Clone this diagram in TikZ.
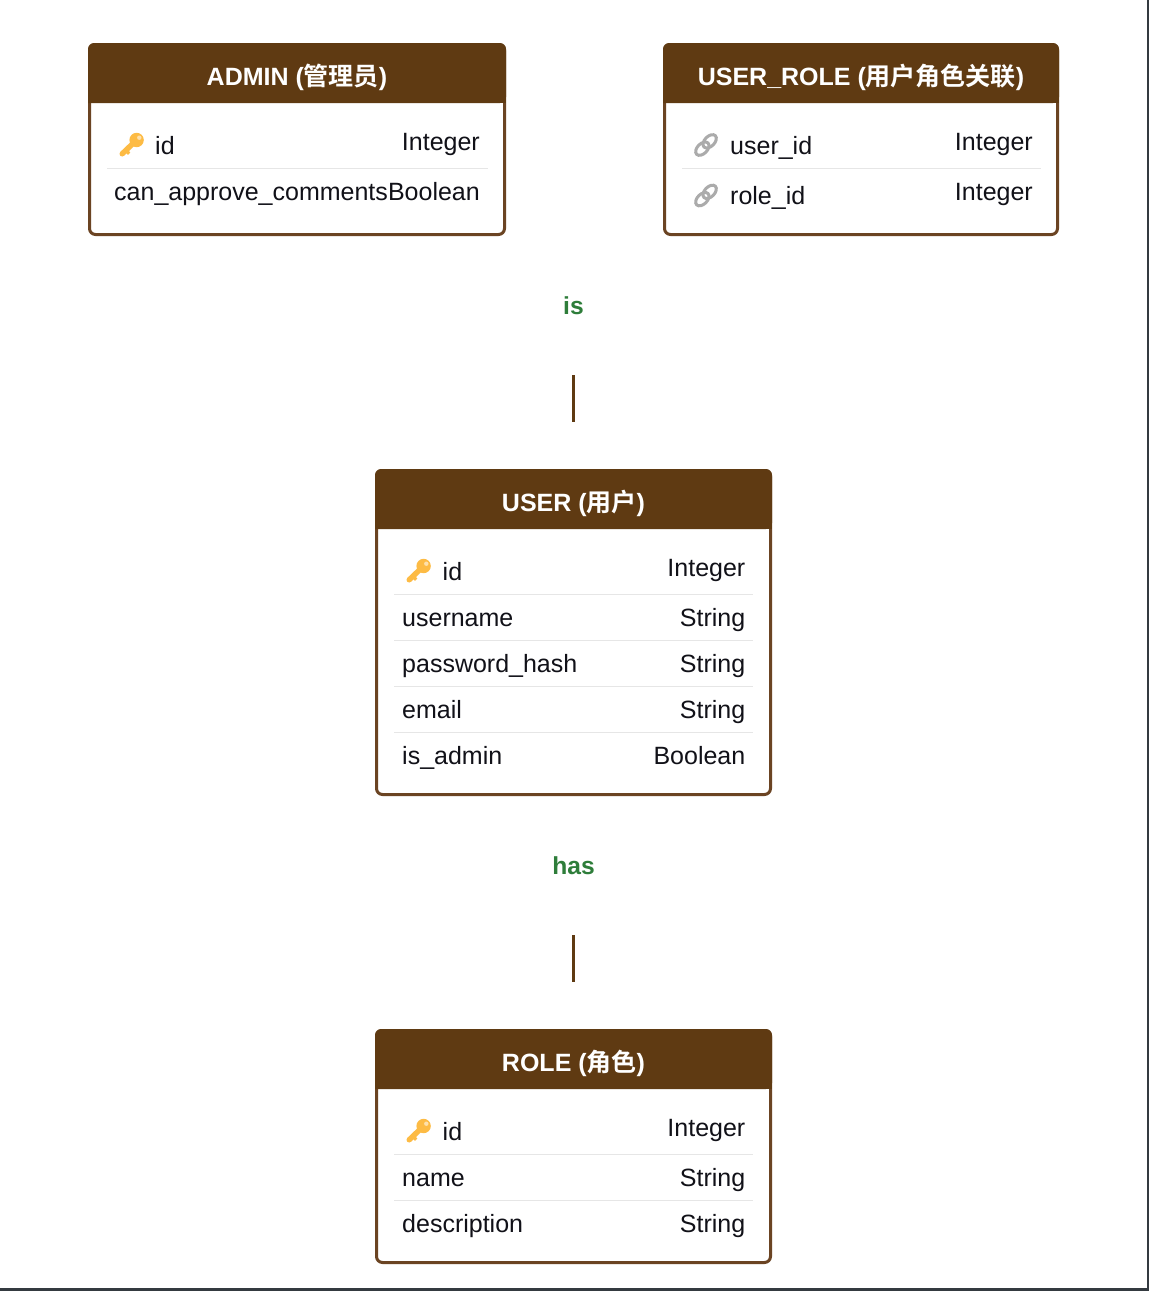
\documentclass[tikz,border=0pt]{standalone}
\usepackage{fontspec}
\setmainfont{Liberation Sans}
\newfontfamily\cjkfont{Noto Sans CJK SC}[BoldFont={Noto Sans CJK SC Bold}]
\definecolor{brownmain}{HTML}{5F3A12}
\definecolor{borderbrown}{HTML}{6B4423}
\definecolor{sepgray}{HTML}{E6E6E6}
\definecolor{labelgreen}{HTML}{2E7D3A}
\definecolor{keygold}{HTML}{FDBB44}
\definecolor{linkgray}{HTML}{ABABAB}
\definecolor{pageedge}{HTML}{343A40}
\definecolor{inktext}{HTML}{111118}
\tikzset{
  x=1pt,y=-1pt,
  cell/.style={font=\fontsize{25}{28}\selectfont,text=inktext,inner sep=0pt},
  cellL/.style={cell,anchor=base west},
  cellR/.style={cell,anchor=base east},
  title/.style={font=\fontsize{25}{28}\selectfont\bfseries,text=white,inner sep=0pt,anchor=base},
  rel/.style={font=\fontsize{24.6}{28}\selectfont\bfseries,text=labelgreen,inner sep=0pt,anchor=base},
  sep/.style={draw=sepgray,line width=1pt},
  conn/.style={draw=brownmain,line width=3pt},
  frame/.style={draw=borderbrown,line width=3pt,rounded corners=6pt,fill=white},
  keyicon/.pic={
    \fill[keygold] (5.6,-5) circle (7.2);
    \draw[keygold,line width=5.4pt,line cap=round] (3,-2.5) -- (-8.8,8.8);
    \draw[keygold,line width=3.4pt] (-4.6,6) -- (-1.8,8.6);
    \fill[white!55!keygold] (8.3,-7.3) circle (2.2);
  },
  linkicon/.pic={
    \draw[linkgray,line width=3pt,rotate=45] (5.2,0) ellipse (8 and 5);
    \draw[linkgray,line width=3pt,rotate=45] (-5.2,0) ellipse (8 and 5);
  },
}
% #1 name, #2 left, #3 top, #4 right, #5 bottom, #6 title
\newcommand{\ertable}[6]{%
  \draw[frame] (#2,#3) rectangle (#4,#5);
  \fill[brownmain,rounded corners=6pt] (#2-1.5,#3+58.5) -- (#2-1.5,#3-1.5) -- (#4+1.5,#3-1.5) -- (#4+1.5,#3+58.5) [sharp corners] -- cycle;
  \fill[brownmain] (#2-1.5,#3+20) rectangle (#4+1.5,#3+58.5);
  \node[title] (#1) at ({(#2+#4)/2},#3+40.5) {#6};
}
\begin{document}
\begin{tikzpicture}
\useasboundingbox (0,0) rectangle (1149,1291);
\fill[white] (0,0) rectangle (1149,1291);
\fill[pageedge] (1147,0) rectangle (1149,1291);
\fill[pageedge] (0,1288) rectangle (1149,1291);

% ADMIN
\ertable{admin}{89.5}{44.5}{504.5}{234.5}{ADMIN ({\cjkfont 管理员})}
\draw[sep] (107,168) -- (488,168);
\pic at (131,145) {keyicon};
\node[cellL] (adminIdN) at (155,154) {id};
\node[cellR] (adminIdT) at (480,150.5) {Integer};
\node[cellL] (adminCaN) at (114,200) {can\_approve\_comments};
\node[cellR] (adminCaT) at (480,200) {Boolean};

% USER_ROLE
\ertable{userrole}{664.5}{44.5}{1057.5}{234.5}{USER\_ROLE ({\cjkfont 用户角色关联})}
\draw[sep] (682,168) -- (1041,168);
\pic at (706,145) {linkicon};
\pic at (706,195.5) {linkicon};
\node[cellL] (urUN) at (730,154) {user\_id};
\node[cellR] (urUT) at (1033,150.5) {Integer};
\node[cellL] (urRN) at (730,204) {role\_id};
\node[cellR] (urRT) at (1033,200) {Integer};

% is
\node[rel] (isLabel) at (573.5,314.5) {is};
\coordinate (isTop) at (573.5,375);
\coordinate (isBottom) at (573.5,422);
\draw[conn] (isTop) -- (isBottom);

% USER
\ertable{user}{376.5}{470.5}{770.5}{794.5}{USER ({\cjkfont 用户})}
\foreach \y in {594.5,640.5,686.5,732.5} \draw[sep] (394,\y) -- (753,\y);
\pic at (418,571) {keyicon};
\node[cellL] (uIdN) at (442.5,580) {id};
\node[cellR] (uIdT) at (745.5,576.5) {Integer};
\node[cellL] (uUN) at (402,626.5) {username};
\node[cellR] (uUT) at (745.5,626.5) {String};
\node[cellL] (uPN) at (402,672.5) {password\_hash};
\node[cellR] (uPT) at (745.5,672.5) {String};
\node[cellL] (uEN) at (402,718.5) {email};
\node[cellR] (uET) at (745.5,718.5) {String};
\node[cellL] (uAN) at (402,764.5) {is\_admin};
\node[cellR] (uAT) at (745.5,764.5) {Boolean};

% has
\node[rel] (hasLabel) at (573.5,874.5) {has};
\coordinate (hasTop) at (573.5,935);
\coordinate (hasBottom) at (573.5,982);
\draw[conn] (hasTop) -- (hasBottom);

% ROLE
\ertable{role}{376.5}{1030.5}{770.5}{1262.5}{ROLE ({\cjkfont 角色})}
\foreach \y in {1154.5,1200.5} \draw[sep] (394,\y) -- (753,\y);
\pic at (418,1131) {keyicon};
\node[cellL] (rIdN) at (442.5,1140) {id};
\node[cellR] (rIdT) at (745.5,1136.5) {Integer};
\node[cellL] (rNN) at (402,1186.5) {name};
\node[cellR] (rNT) at (745.5,1186.5) {String};
\node[cellL] (rDN) at (402,1232.5) {description};
\node[cellR] (rDT) at (745.5,1232.5) {String};
\end{tikzpicture}
\end{document}
